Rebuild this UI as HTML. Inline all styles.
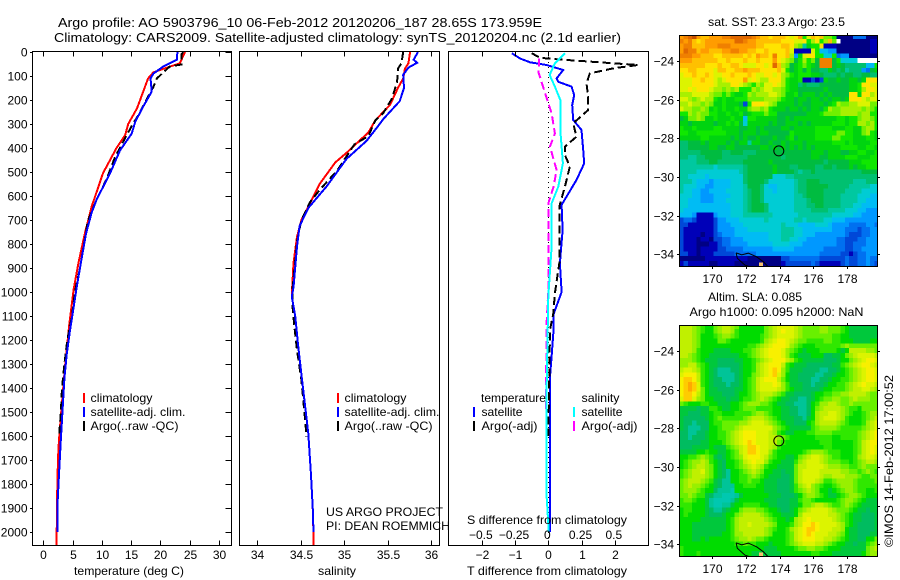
<!DOCTYPE html>
<html lang="en">
<head>
<meta charset="utf-8">
<title>Argo profile 5903796_10</title>
<style>
html,body{margin:0;padding:0;background:#fff;width:900px;height:580px;overflow:hidden}
svg{display:block;position:absolute;left:0;top:0}
text{font-family:"Liberation Sans",sans-serif;font-size:12px;fill:#000}
</style>
</head>
<body>
<svg id="chart" xmlns="http://www.w3.org/2000/svg" width="900" height="580" viewBox="0 0 900 580">
  <defs>
    <clipPath id="clip-temp"><rect x="32" y="52" width="199" height="493"/></clipPath>
    <clipPath id="clip-sal"><rect x="239" y="52" width="200" height="493"/></clipPath>
    <clipPath id="clip-diff"><rect x="448" y="52" width="200" height="493"/></clipPath>
    <clipPath id="clip-sst"><rect x="679" y="35" width="199" height="232"/></clipPath>
    <clipPath id="clip-sla"><rect x="679" y="325" width="199" height="232"/></clipPath>
  </defs>
  <g id="maps"></g>
  <g id="plots"></g>

  <text x="58" y="27" style="font-size:13px" textLength="484" lengthAdjust="spacingAndGlyphs">Argo profile: AO 5903796_10 06-Feb-2012 20120206_187 28.65S 173.959E</text>
  <text x="54" y="42" style="font-size:13px" textLength="567" lengthAdjust="spacingAndGlyphs">Climatology: CARS2009. Satellite-adjusted climatology: synTS_20120204.nc (2.1d earlier)</text>

  <text x="74" y="575" textLength="110" lengthAdjust="spacingAndGlyphs">temperature (deg C)</text>
  <text x="318" y="575" textLength="38" lengthAdjust="spacingAndGlyphs">salinity</text>
  <text x="467" y="575" textLength="160" lengthAdjust="spacingAndGlyphs">T difference from climatology</text>
  <text x="467" y="524" textLength="160" lengthAdjust="spacingAndGlyphs">S difference from climatology</text>

  <g>
    <rect x="83" y="393" width="2" height="10" fill="#f00"/>
    <text x="90.5" y="402" textLength="62" lengthAdjust="spacingAndGlyphs">climatology</text>
    <rect x="83" y="407" width="2" height="10" fill="#00f"/>
    <text x="90.5" y="416" textLength="95" lengthAdjust="spacingAndGlyphs">satellite-adj. clim.</text>
    <rect x="83" y="421" width="2" height="10" fill="#000"/>
    <text x="90.5" y="430" textLength="88" lengthAdjust="spacingAndGlyphs">Argo(..raw -QC)</text>
  </g>
  <g>
    <rect x="337" y="393" width="2" height="10" fill="#f00"/>
    <text x="344.5" y="402" textLength="62" lengthAdjust="spacingAndGlyphs">climatology</text>
    <rect x="337" y="407" width="2" height="10" fill="#00f"/>
    <text x="344.5" y="416" textLength="95" lengthAdjust="spacingAndGlyphs">satellite-adj. clim.</text>
    <rect x="337" y="421" width="2" height="10" fill="#000"/>
    <text x="344.5" y="430" textLength="88" lengthAdjust="spacingAndGlyphs">Argo(..raw -QC)</text>
  </g>
  <g>
    <text x="481" y="402" textLength="65" lengthAdjust="spacingAndGlyphs">temperature</text>
    <rect x="473" y="407" width="2" height="10" fill="#00f"/>
    <text x="481.5" y="416" textLength="41" lengthAdjust="spacingAndGlyphs">satellite</text>
    <rect x="473" y="421" width="2" height="10" fill="#000"/>
    <text x="481.5" y="430" textLength="56" lengthAdjust="spacingAndGlyphs">Argo(-adj)</text>
    <text x="581.5" y="402" textLength="38" lengthAdjust="spacingAndGlyphs">salinity</text>
    <rect x="573" y="407" width="2" height="10" fill="#0ff"/>
    <text x="581.5" y="416" textLength="41" lengthAdjust="spacingAndGlyphs">satellite</text>
    <rect x="573" y="421" width="2" height="10" fill="#f0f"/>
    <text x="581.5" y="430" textLength="56" lengthAdjust="spacingAndGlyphs">Argo(-adj)</text>
  </g>

  <text x="326" y="516" textLength="117" lengthAdjust="spacingAndGlyphs">US ARGO PROJECT</text>
  <text x="326" y="530" textLength="124" lengthAdjust="spacingAndGlyphs">PI: DEAN ROEMMICH</text>

  <text x="708" y="26" textLength="137" lengthAdjust="spacingAndGlyphs">sat. SST: 23.3 Argo: 23.5</text>
  <text x="708" y="301" textLength="94" lengthAdjust="spacingAndGlyphs">Altim. SLA: 0.085</text>
  <text x="689.5" y="316" textLength="174" lengthAdjust="spacingAndGlyphs">Argo h1000: 0.095 h2000: NaN</text>
  <text transform="translate(893,547) rotate(-90)" textLength="172" lengthAdjust="spacingAndGlyphs">©IMOS 14-Feb-2012 17:00:52</text>
</svg>

<script>
// ---- profile panels: depth (m) and values ----
var tempClimDepth = [0,47,70,85,110,235,300,345,400,505,645,755,880,985,1054,1130,1310,1475,1600,1655,1780,2000,2056];
var tempClim      = [24.2,23.3,20.5,18.8,17.9,16.0,14.5,14.0,12.5,10.2,8.25,7.1,6.0,5.2,4.85,4.45,3.7,3.14,2.74,2.57,2.4,2.28,2.25];
var tempSatDepth  = [0,32,60,90,110,165,225,290,340,410,505,615,670,755,880,980,1075,1160,1260,1360,1510,1625,1735,1890,2000];
var tempSat       = [22.9,22.8,20.5,18.8,18.3,18.5,17.1,15.7,15.1,13.1,11.4,9.1,8.25,7.3,6.4,5.7,5.1,4.56,4.0,3.6,3.25,2.97,2.74,2.4,2.4];
var tempArgoDepth = [0,10,52,60,110,145,195,265,295,375,440,530,615,705,900,1000,1100,1200,1300,1400,1500,1600];
var tempArgo      = [23.9,23.6,23.6,21.6,19.4,18.8,17.7,16.2,15.4,13.6,12.2,10.8,9.1,7.6,6.27,5.4,4.9,4.1,3.6,3.2,3.0,2.7];

var salClimDepth = [0,47,70,110,150,220,285,335,420,460,550,630,700,770,880,980,1019,1103,1214,1325,1464,1589,1756,1896,2008,2056];
var salClim      = [35.76,35.74,35.70,35.68,35.62,35.53,35.36,35.28,35.03,34.9,34.72,34.61,34.51,34.46,34.42,34.405,34.40,34.44,34.47,34.505,34.55,34.59,34.62,34.64,34.65,34.65];
var salSatDepth  = [0,32,45,65,95,150,205,280,300,370,445,560,650,725,810,980,1019,1103,1214,1325,1464,1589,1756,1896,2000];
var salSat       = [35.85,35.80,35.84,35.74,35.68,35.69,35.64,35.45,35.41,35.26,35.03,34.80,34.59,34.49,34.46,34.42,34.40,34.44,34.47,34.505,34.55,34.59,34.62,34.64,34.65];
var salArgoDepth = [0,47,70,125,195,255,285,350,385,495,575,625,700,790,980,1047,1144,1242,1367,1519,1603];
var salArgo      = [35.68,35.66,35.62,35.61,35.55,35.45,35.36,35.28,35.12,34.92,34.72,34.61,34.51,34.46,34.41,34.405,34.43,34.46,34.51,34.55,34.57];

var diffTSatDepth  = [5,27,43,54,75,110,124,144,179,221,283,325,408,464,533,637,742,880,1000,1096,1172,1269,1353,1547,1964,2000];
var diffTSat       = [-1.1,-0.85,-0.55,-0.05,0.45,0.25,0.3,0.7,0.78,0.72,0.75,1.0,1.05,1.08,0.85,0.4,0.43,0.35,0.4,0.15,0.15,0.1,0.05,0.05,0.05,0.05];
var diffTArgoDepth = [5,24,31,43,54,68,89,131,186,242,297,353,394,429,477,561,644,880,1005,1089,1158,1353,1600];
var diffTArgo      = [-0.5,-0.25,0.3,1.55,2.7,1.96,1.25,1.15,1.2,1.2,0.75,0.85,0.5,0.5,0.65,0.5,0.33,0.33,0.2,0.15,0.05,0.03,0];
var diffSSatDepth  = [5,47,96,144,200,325,464,561,631,811,1019,1408,1850,1964,2000];
var diffSSat       = [0.125,0.05,0.01,0.05,0.09,0.09,0.11,0.075,0.025,0.025,0,-0.0125,-0.0125,0,0];
var diffSArgoDepth = [27,54,82,144,255,339,394,492,561,631,742,992,1130,1408,1505];
var diffSArgo      = [-0.07,-0.07,-0.075,-0.04,0.025,0.05,0.0125,0.0625,0.04,0,0,0,-0.0125,-0.0175,-0.0175];

var depthTicks = [0,100,200,300,400,500,600,700,800,900,1000,1100,1200,1300,1400,1500,1600,1700,1800,1900,2000];
var tempTicks = [0,5,10,15,20,25,30];
var salTicks = [34,34.5,35,35.5,36];
var salTickLabels = ['34','34.5','35','35.5','36'];
var diffTTicks = [-2,-1,0,1,2];
var diffTTickLabels = ['−2','−1','0','1','2'];
var diffSTicks = [-0.5,-0.25,0,0.25,0.5];
var diffSTickLabels = ['−0.5','−0.25','0','0.25','0.5'];
var lonTicks = [170,172,174,176,178];
var latTicks = [-24,-26,-28,-30,-32,-34];

// float position
var argoLon = 173.959;
var argoLat = -28.65;

// coastline (northern tip of New Zealand)
var coastLon = [171.44,171.77,172.16,172.65,173.05,173.34,172.26,171.96,171.51,171.44];
var coastLat = [-33.92,-34.03,-33.94,-34.13,-34.39,-34.65,-34.65,-34.56,-34.2,-33.92];

// gridded map values: one colour-class code per 0.25 deg cell, 0 = coldest/lowest … k = warmest/highest, w = no data
var sstRows = [
"hijkhgghhhiijjjjjihggfgggfefhbegfgccb0000333000",
"ihigfghhhhhhhjjihhggggggfffeefbdfbdgcw000000011",
"hiiggghhhiiihhhhhhggffffggfdc7abbf1110000000011",
"hjiighhggghhiihhggffgffffge1111eb55440000000011",
"iiihhgggffgggggfgfhggfiffgd4aeffbb66b3440000000",
"hhhggggggffgfffgffgfffhfedc9bdbc9iii9b6666wwwww",
"ggggggfffgffggfeeeffefjgdc9abcba9iii9a98888855b",
"ffggffffeggffgghgggffffgeb9ab9b9988a98978884 39a",
"effgffgfeeffgfffgfeeffefdcbabbbaa98889899889988",
"eeeffgffedeffffhefeddfffdbaab11212a99a99aa9afff",
"eeefffffedddffedcbdceefedbaa898889999999aabffee",
"eefefffeddcdcdbbbdcdeeddcbaa999999a99999aabdffe",
"dddeeeedccbcbaabdcdddeedcaab9aaa9a9a9999ffaffde",
"eedcdeddbabaabbbccccdddcbaa9aa9aa9a9aa9afffedee",
"ddeddcdcaabaaa92bfffedcaaaa9a99aaa9abdccddeeecc",
"eddccdcababaabaacddcdbaaa9aa9a9aa9bdccdddddcdcb",
"bbdcdccbbaabaab9abbbcbb9999999aaabccccddddcddbb",
"9accdcaabaaabaa5bbaaaaa99a9aaaaaaaaaabbabbcddcb",
"aa9aaaaa9aabab96aaaaa9a99aaa9a9aaaaabbbabbddcdb",
"baabaaaabbaaaa99aa9a9999aa9aaaaabbbbaaabbaacddb",
"bbaabbbbbbbaaa9aaa9aa99999baaaaabbbbbccbbaacdba",
"aaaaabbaaaaa9a9a99a999a99ab9aaaabbbbccbbbaaabba",
"88999a9aaaa9a9aa7aa99a99a9aaa9aaaaaabbbabaaaabb",
"8899999aa99aa999999aa9a9a9a9a9a9aaaaaabbbbaabba",
"8888899999889998889999999999999aaa9aaa99aabbaab",
"8877889999888888999999998999999aa99aaaabbbaaab",
"777788899888888999999a999999999999899999aaabbb",
"7777777767777778999999a99988999988998999a9aab",
"7777666666666678999999a999987889888888888889999",
"776666566666666899999966677888888888888888888",
"7776555455556668999986666667889998888888877788",
"76665544555566679998655666678899999888887777766",
"76655445555666678998665666678899998888877776666",
"66655444555566678998666666677899998888777766655",
"66555444555666678998666666677789998888777766555",
"66555555555566678999866666677788998888777665555",
"65555555555566678999866666677778888777766655444",
"55541111455566677777776666667777777766666554 4444",
"23321111244555666666766666677677776655544444444",
"22111111244455566666666676665555666544443333443",
"21111111244445556666666677766555555544433323344",
"21111011234445555555566677766555444444432223344",
"21110110 22334445555556667766554444444332223344",
"21110001123344445555556666555444444443322 33344",
"21110111122333344444445555544444443333322 33444",
"22110111222223333344444444444444433333221 2334444",
"00000011111111110000000022333333322222 232233433",
"12111110011110000000000012222223211111232233432"
];
var slaRows = [
"eeedcbaacdeedcaaaaaacdeffffedccccddcccba9999999",
"eeedcbaacdeedbaaaaaacdefgffedccccddcccba9999999",
"eeedcaaabcddcbaaaaabcdeffffedcccccccbbaa9999999",
"eeedcaaaaccbaaaaaaabdefggfedccbbbbccbbaaa9999aa",
"eeedcaaaaaaaaaaabbcdefgggfdcbaaabbbbbbcdccccccc",
"eeedbaaa9999aaabbcdefgggfdcba9aaabbbba9aeeeeddc",
"eedcbaa9999999aabcdefgggfdba999aaa8899acdeffffed",
"dddcba999888899aabcdefgggedba999998889aacdefggfed",
"ddeecba99888889aabdefgggeba99988888899bcdefggfed",
"effedba98777889aabdefghgdb999888877889abcdefggfed",
"fgggeba98777789aacdefghfda99888877889aabcdefggfee",
"ghhgeba98877789abcefgggeca9988877889aabbcdefggfed",
"ghihfba98887889abcefffgfdb999887889aabbcdefgffed",
"ghihfca99888899abceffffedba9988889aabbbcdeeffedc",
"ghhgeca9998889aabcdeeedcb9988889aabbccddeeeedcc",
"fhhfdcaa999899abbcdedcba99887789abccddcc dedddcc",
"cbaaabbaa999aabcdddccba99887778abddeedccdcccccc",
"9999899bba99aabcccbbbbaa9988778acdeeeedcbbacccc",
"9988899abbaaabbbbcddcbaa9988778adeeffedcbaabcdd",
"9888889abcbbbbbcdeeedcba9998879adefffedbaaabcde",
"9887888abbccccddefffedcba99888abdeeeedcbaaabdef",
"9877788aabcccdefffffffdcba99999bcddddcbbbbbcdeff",
"8877889aabbcdefgggfffedba99aaabbccccbbbbbbcdefg",
"8878889aabbcdefgggfffeedcbaaaaaabbbbaabbbbcdefg",
"8888899aaabcdefghgfffeecbaaaaaaaabbbaaaaabcefgg",
"8889999a999bcdefhhgffedbaaaaaaaaaabbaaaaabcefgf",
"9999aabaa99abcefhhgffdbaaaaaabcdddcbbbaaabcefgf",
"aabbcdcb989abcdfgggfecbaa99acdeffedcbbaaabdeffe",
"abcddedba98aabcefgffdbaa999bdefffedcccbbabcdeed",
"abcdeedca98aabcdefedbaa9999ceeffffedddccbbcdccc",
"bcdeefdca987aabcdedcaa99899ceffffeeeeeddccbcdcb",
"bcdeeedca987aabbcdcba999889ceffffeddeeedddcbbccc",
"cdeeedcb9877aabbcbba9998889cefffedbbcddddcbbbbc",
"cdeddcba98777aabbbaa9998889bdefdcbaabcdddcbbbbb",
"cdddcbaa87776aaaaaaa9998889bcdedcaa9abcddcbbaab",
"ccdcbb98776667 9aaaaaa9998889acddcba99abcddcbaaab",
"bccbaa97666679aaaaaa99988899bccbaaaaabcddcba999",
"bbbaaa9766779aabbbbaa9988899accdeedcbbcdcba9999",
"abbaaa987789aacdddccbaa9889acdeffffedcccba99899",
"abaaaa98889aacdeeeedcbaa999adffffffeedcba998889",
"aaaaa999999abdeeeeeedcbaa9adefgfffffedcba998889",
"aaa99999999abdeefeeeedcaaabdegghgffffedba988889",
"aaa99999999abdeeeeeedcbaabdefghhgfffeeda9988889",
"aaa9999999aabddeeeeedcaaabcefghgfffeedca9988899",
"aaa99a9aaaaabcddedccbaaaabcefgggffeedcba9988aac",
"aaaaaaaaaaaaabbcbbaaa9aaabcdefffeedcbaa99899bcd",
"baaaaaaaaaaaaaaaaaaa999aaaabccddccbaaa999999cde",
"baaabaaaaaaaaaaaa9999999aaaaaaabbaaa9999999acdd"
];

// ---- drawing ----
var SVGNS = 'http://www.w3.org/2000/svg';
var plots = document.getElementById('plots');
var maps = document.getElementById('maps');

var sstColors = {
  '0':'#000084','1':'#0000b8','2':'#0048d8','3':'#0070f0','4':'#0098ff','5':'#00bcf4','6':'#00ccd4',
  '7':'#00c8a0','8':'#00c070','9':'#00bc40','a':'#00d410','b':'#10e800','c':'#70f000','d':'#a8f000',
  'e':'#dcf400','f':'#ffe400','g':'#ffc000','h':'#ff9c00','i':'#f08000','j':'#e06800','k':'#c85000','w':'#ffffff'
};
var slaColors = {
  '6':'#00c8b0','7':'#00c498','8':'#00bc60','9':'#00c83c','a':'#00dc00','b':'#30e800','c':'#68f000','d':'#98f000',
  'e':'#c0f000','f':'#dcf400','g':'#f8f000','h':'#ffcc00','i':'#ffa800'
};

function depthY(d){ return 52 + d * 0.24; }
function tempX(t){ return 43.3 + t * 5.857; }
function salX(s){ return 257 + (s - 34) * 87; }
function diffTX(t){ return 548.3 + t * 33.2; }
function diffSX(s){ return 548.3 + s * 133; }
function lonX(lon){ return 711.7 + (lon - 170) * 16.95; }
function sstY(lat){ return 61 + (-24 - lat) * 19.33; }
function slaY(lat){ return 351 + (-24 - lat) * 19.33; }

function el(tag, parent, attrs){
  var n = document.createElementNS(SVGNS, tag);
  for (var k in attrs) n.setAttribute(k, attrs[k]);
  parent.appendChild(n);
  return n;
}
function tick(parent, x1, y1, x2, y2, name){
  var t = el('line', parent, {x1:x1, y1:y1, x2:x2, y2:y2, stroke:'#000', 'stroke-width':1, 'shape-rendering':'crispEdges'});
  
  
}
function label(parent, x, y, str, anchor, name){
  var t = el('text', parent, {x:x, y:y, 'text-anchor':anchor});
  t.textContent = str;
  
  
}
function frame(parent, x, y, w, h, name){
  var f = el('rect', parent, {x:x, y:y, width:w, height:h, fill:'none', stroke:'#000', 'stroke-width':1, 'shape-rendering':'crispEdges'});
  
  
}
function series(parent, values, depths, xf, color, width, dash, clip, name){
  var pts = [];
  for (var i = 0; i < values.length; i++) pts.push(xf(values[i]).toFixed(1) + ',' + depthY(depths[i]).toFixed(1));
  var a = {points:pts.join(' '), fill:'none', stroke:color, 'stroke-width':width, 'shape-rendering':'crispEdges', 'clip-path':'url(#' + clip + ')'};
  if (dash) a['stroke-dasharray'] = dash;
  var p = el('polyline', parent, a);
  
  
}

// temperature panel
var g1 = el('g', plots, {});


series(g1, tempClim, tempClimDepth, tempX, '#f00', 2, null, 'clip-temp', 'temperature-climatology-line');
series(g1, tempArgo, tempArgoDepth, tempX, '#000', 2, '8 4', 'clip-temp', 'temperature-argo-line');
series(g1, tempSat, tempSatDepth, tempX, '#00f', 2, null, 'clip-temp', 'temperature-satellite-line');
frame(g1, 32.5, 51.5, 199, 494, 'temperature-panel-frame');
depthTicks.forEach(function(d){
  var y = Math.round(depthY(d)) + 0.5;
  tick(g1, 30, y, 32.5, y, 'depth-tick-left');
  tick(g1, 225.5, y, 231.5, y, 'depth-tick-right');
  label(g1, 27.5, y + 4, String(d), 'end', 'depth-tick-label');
});
tempTicks.forEach(function(t){
  var x = Math.round(tempX(t)) + 0.5;
  tick(g1, x, 51.5, x, 56.5, 'temperature-tick-top');
  tick(g1, x, 540.5, x, 545.5, 'temperature-tick-bottom');
  label(g1, x, 559, String(t), 'middle', 'temperature-tick-label');
});

// salinity panel
var g2 = el('g', plots, {});


series(g2, salClim, salClimDepth, salX, '#f00', 2, null, 'clip-sal', 'salinity-climatology-line');
series(g2, salArgo, salArgoDepth, salX, '#000', 2, '8 4', 'clip-sal', 'salinity-argo-line');
series(g2, salSat, salSatDepth, salX, '#00f', 2, null, 'clip-sal', 'salinity-satellite-line');
frame(g2, 239.5, 51.5, 200, 494, 'salinity-panel-frame');
salTicks.forEach(function(s, i){
  var x = Math.round(salX(s)) + 0.5;
  tick(g2, x, 51.5, x, 56.5, 'salinity-tick-top');
  tick(g2, x, 540.5, x, 545.5, 'salinity-tick-bottom');
  label(g2, x, 559, salTickLabels[i], 'middle', 'salinity-tick-label');
});

// difference panel
var g3 = el('g', plots, {});


var zeroLine = el('line', g3, {x1:diffTX(0), y1:52, x2:diffTX(0), y2:545, stroke:'#000', 'stroke-width':1, 'stroke-dasharray':'1 4', 'shape-rendering':'crispEdges'});


series(g3, diffTSat, diffTSatDepth, diffTX, '#00f', 2, null, 'clip-diff', 't-difference-satellite-line');
series(g3, diffTArgo, diffTArgoDepth, diffTX, '#000', 2, '8 4', 'clip-diff', 't-difference-argo-line');
series(g3, diffSArgo, diffSArgoDepth, diffSX, '#f0f', 2, '8 4', 'clip-diff', 's-difference-argo-line');
series(g3, diffSSat, diffSSatDepth, diffSX, '#0ff', 2, null, 'clip-diff', 's-difference-satellite-line');
frame(g3, 448.5, 51.5, 200, 494, 'difference-panel-frame');
diffTTicks.forEach(function(t, i){
  var x = Math.round(diffTX(t)) + 0.5;
  tick(g3, x, 51.5, x, 56.5, 't-difference-tick-top');
  tick(g3, x, 540.5, x, 545.5, 't-difference-tick-bottom');
  label(g3, x, 559, diffTTickLabels[i], 'middle', 't-difference-tick-label');
});
diffSTicks.forEach(function(s, i){
  label(g3, diffSX(s) - 1, 539, diffSTickLabels[i], 'middle', 's-difference-tick-label');
});

// map panels
function drawMap(rows, colors, yf, top, clip, name){
  var g = el('g', maps, {'clip-path':'url(#' + clip + ')'});
  
  
  var lon0 = 168.1, lat0 = -22.6, step = 0.25;
  rows.forEach(function(rowText, r){
    var row = rowText.replace(/ /g, '');
    for (var c = 0; c < 47; c++){
      var code = row.charAt(Math.min(c, row.length - 1));
      var x1 = lonX(lon0 + c * step), x2 = lonX(lon0 + (c + 1) * step);
      var y1 = yf(lat0 - r * step), y2 = yf(lat0 - (r + 1) * step);
      var cell = el('rect', g, {x:x1.toFixed(2), y:y1.toFixed(2), width:(x2 - x1 + 0.4).toFixed(2), height:(y2 - y1 + 0.4).toFixed(2), fill:colors[code], 'shape-rendering':'crispEdges'});
      
      
    }
  });
  var pts = coastLon.map(function(lon, i){ return lonX(lon).toFixed(1) + ',' + yf(coastLat[i]).toFixed(1); }).join(' ');
  var coast = el('polyline', g, {points:pts, fill:'none', stroke:'#000', 'stroke-width':1});
  
  
  var land = el('rect', g, {x:lonX(172.8), y:yf(-34.42), width:4, height:4, fill:'#f4c070', 'shape-rendering':'crispEdges'});
  
  
  var circle = el('circle', maps, {cx:lonX(argoLon), cy:yf(argoLat), r:5, fill:'none', stroke:'#000', 'stroke-width':1});
  
  
  frame(maps, 679.5, top + 0.5, 198, 231, name + '-frame');
  lonTicks.forEach(function(lon){
    var x = Math.round(lonX(lon)) + 0.5;
    tick(maps, x, top - 2, x, top + 0.5, 'longitude-tick-top');
    tick(maps, x, top + 231.5, x, top + 234, 'longitude-tick-bottom');
    label(maps, x, top + 248, String(lon), 'middle', 'longitude-tick-label');
  });
  latTicks.forEach(function(lat){
    var y = Math.round(yf(lat)) + 0.5;
    tick(maps, 677, y, 679.5, y, 'latitude-tick-left');
    tick(maps, 877.5, y, 880, y, 'latitude-tick-right');
    label(maps, 674, y + 4, '−' + Math.abs(lat), 'end', 'latitude-tick-label');
  });
}
drawMap(sstRows, sstColors, sstY, 35, 'clip-sst', 'sst-map');
drawMap(slaRows, slaColors, slaY, 325, 'clip-sla', 'sla-map');
</script>
</body>
</html>
